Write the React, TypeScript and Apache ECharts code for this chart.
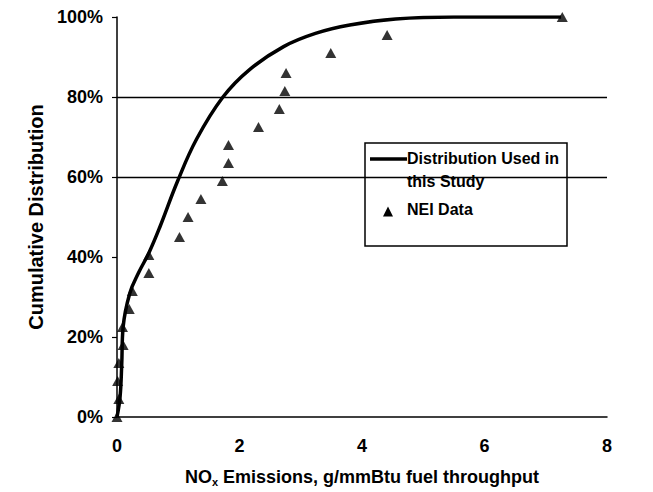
import React, { useEffect, useRef } from "react";
import * as echarts from "echarts";

// Distribution curve
const curveX = [0, 0.05, 0.077, 0.1, 0.21, 0.35, 0.52, 0.7, 0.99, 1.3, 1.73, 2.16, 2.72, 3.24, 3.8, 4.55, 5.5, 7.25];
const curveY = [0, 0.05, 0.13, 0.225, 0.31, 0.36, 0.41, 0.475, 0.59, 0.695, 0.80, 0.868, 0.926, 0.959, 0.98, 0.995, 1.0, 1.0];

// NEI data points
const neiX = [0, 0.03, 0.01, 0.03, 0.1, 0.09, 0.2, 0.25, 0.52, 0.52, 1.02, 1.16, 1.37, 1.72, 1.82, 1.82, 2.31, 2.65, 2.74, 2.76, 3.49, 4.41, 7.27];
const neiY = [0, 0.045, 0.09, 0.135, 0.18, 0.225, 0.27, 0.315, 0.36, 0.405, 0.45, 0.5, 0.545, 0.59, 0.635, 0.68, 0.725, 0.77, 0.815, 0.86, 0.91, 0.955, 1.0];

const gridLevels = [0.6, 0.8];
const xTicks = { min: 0, max: 8, interval: 2 };
const yTicks = { min: 0, max: 1, interval: 0.2 };

const FONT = "'Liberation Sans', Arial, sans-serif";

export default function App() {
  const ref = useRef<HTMLDivElement>(null);
  useEffect(() => {
    if (!ref.current) return;
    const chart = echarts.init(ref.current, null, { renderer: "svg" });
    const txt = { color: "#000", fontFamily: FONT, fontWeight: "bold" as const };
    chart.setOption({
      animation: false,
      backgroundColor: "#fff",
      grid: { left: 117, right: 46, top: 17, bottom: 75, containLabel: false },
      xAxis: {
        type: "value",
        min: xTicks.min,
        max: xTicks.max,
        interval: xTicks.interval,
        axisLine: { show: true, onZero: false, lineStyle: { color: "#000", width: 1.5 } },
        axisTick: { show: false },
        splitLine: { show: false },
        axisLabel: { ...txt, fontSize: 18, margin: 20 },
        name: "{a|NO}{b|x}{a| Emissions, g/mmBtu fuel throughput}",
        nameLocation: "middle",
        nameGap: 49,
        nameTextStyle: {
          ...txt,
          fontSize: 18,
          rich: {
            a: { ...txt, fontSize: 18 },
            b: { ...txt, fontSize: 11, padding: [10, 0, 0, 0] },
          },
        },
      },
      yAxis: {
        type: "value",
        min: yTicks.min,
        max: yTicks.max,
        interval: yTicks.interval,
        axisLine: { show: true, lineStyle: { color: "#000", width: 1.5 } },
        axisTick: { show: true, length: 5, inside: false, lineStyle: { color: "#000", width: 1.2 } },
        splitLine: { show: false },
        axisLabel: {
          ...txt,
          fontSize: 18,
          margin: 14,
          formatter: (v: number) => Math.round(v * 100) + "%",
        },
        name: "Cumulative Distribution",
        nameLocation: "middle",
        nameGap: 69,
        nameTextStyle: { ...txt, fontSize: 20 },
      },
      series: [
        {
          type: "line",
          name: "Distribution Used in this Study",
          data: curveX.map((x, i) => [x, curveY[i]]),
          symbol: "none",
          smooth: 0.4,
          lineStyle: { color: "#000", width: 3.5 },
          z: 3,
          markLine: {
            silent: true,
            symbol: "none",
            label: { show: false },
            lineStyle: { color: "#000", width: 1.3, type: "solid" },
            data: gridLevels.map((v) => ({ yAxis: v })),
            z: 1,
          },
        },
        {
          type: "scatter",
          name: "NEI Data",
          data: neiX.map((x, i) => [x, neiY[i]]),
          symbol: "triangle",
          symbolSize: [11, 10],
          itemStyle: { color: "#000" },
          z: 4,
        },
      ],
      graphic: [
        {
          type: "group",
          z: 100,
          children: [
            {
              type: "rect",
              shape: { x: 365, y: 143, width: 202, height: 103 },
              style: { fill: "#fff", stroke: "#000", lineWidth: 1.5 },
            },
            {
              type: "line",
              shape: { x1: 370, y1: 159, x2: 407, y2: 159 },
              style: { stroke: "#000", lineWidth: 3.5 },
            },
            {
              type: "text",
              x: 407,
              y: 158,
              style: { text: "Distribution Used in", fill: "#000", font: `bold 16px ${FONT}`, verticalAlign: "middle" },
            },
            {
              type: "text",
              x: 407,
              y: 181,
              style: { text: "this Study", fill: "#000", font: `bold 16px ${FONT}`, verticalAlign: "middle" },
            },
            {
              type: "polygon",
              shape: { points: [[383, 216.5], [393, 216.5], [388, 206.5]] },
              style: { fill: "#000" },
            },
            {
              type: "text",
              x: 407,
              y: 209,
              style: { text: "NEI Data", fill: "#000", font: `bold 16px ${FONT}`, verticalAlign: "middle" },
            },
          ],
        },
      ],
    });
    return () => chart.dispose();
  }, []);
  return (
    <div
      ref={ref}
      style={{ position: "absolute", left: 0, top: 0, width: 653, height: 492 }}
    />
  );
}
